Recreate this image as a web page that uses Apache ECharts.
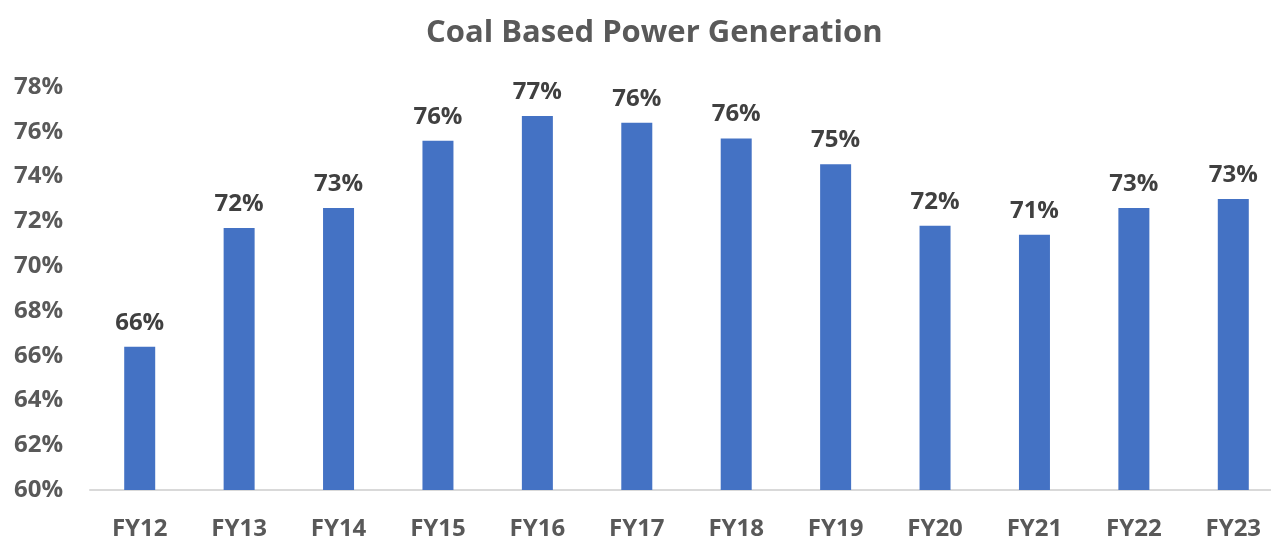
<!DOCTYPE html>
<html>
<head>
<meta charset="utf-8">
<script src="https://cdn.jsdelivr.net/npm/echarts@6/dist/echarts.min.js"></script>
<style>
  html, body { margin: 0; padding: 0; background: #fff; }
  #chart { width: 1271px; height: 537px; }
</style>
</head>
<body>
<div id="chart"></div>
<script>
var years = ['FY12', 'FY13', 'FY14', 'FY15', 'FY16', 'FY17', 'FY18', 'FY19', 'FY20', 'FY21', 'FY22', 'FY23'];
var coalShare = [66.4, 71.7, 72.6, 75.6, 76.7, 76.4, 75.7, 74.55, 71.8, 71.4, 72.6, 73.0];

var font = '"Open Sans", sans-serif';

var option = {
  animation: false,
  title: {
    text: 'Coal Based Power Generation',
    left: 421,
    top: 13,
    textStyle: { fontFamily: font, fontSize: 31, fontWeight: 'bold', color: '#595959' }
  },
  grid: { left: 90, right: -12, top: 87, bottom: 47, outerBoundsMode: 'none' },
  xAxis: {
    type: 'category',
    data: years,
    axisLine: { lineStyle: { color: '#D9D9D9', width: 2 } },
    axisTick: { show: false },
    axisLabel: { margin: 27, fontFamily: font, fontSize: 24, fontWeight: 'bold', color: '#595959' }
  },
  yAxis: {
    type: 'value',
    min: 60,
    max: 78,
    interval: 2,
    splitLine: { show: false },
    axisLine: { show: false },
    axisTick: { show: false },
    axisLabel: {
      margin: 27,
      fontFamily: font, fontSize: 24, fontWeight: 'bold', color: '#595959',
      formatter: function (v) { return v + '%'; }
    }
  },
  series: [{
    type: 'bar',
    data: coalShare,
    barWidth: 31,
    itemStyle: { color: '#4472C4' },
    label: {
      show: true,
      position: 'top',
      distance: 12,
      fontFamily: font, fontSize: 24, fontWeight: 'bold', color: '#404040',
      formatter: function (p) { return Math.round(p.value) + '%'; }
    }
  }]
};

echarts.init(document.getElementById('chart')).setOption(option);
</script>
</body>
</html>
